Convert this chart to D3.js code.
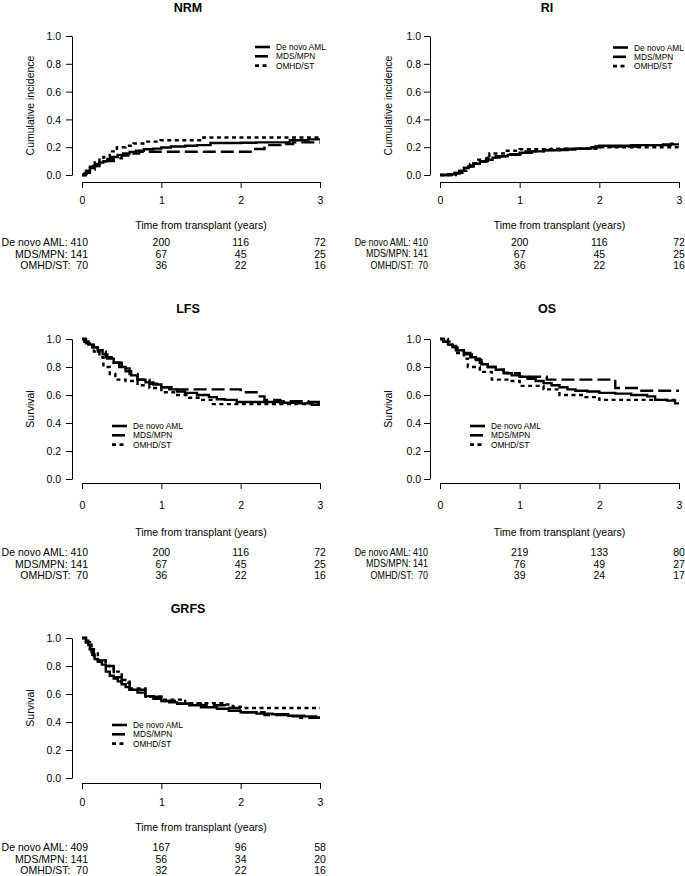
<!DOCTYPE html>
<html>
<head>
<meta charset="utf-8">
<script src="https://cdn.jsdelivr.net/npm/d3@7"></script>
<style>
  html, body { margin: 0; padding: 0; background: #fff; }
  svg text { font-family: "Liberation Sans", Arial, Helvetica, sans-serif; fill: #000; }
</style>
</head>
<body>
<svg id="chart" width="685" height="876"></svg>
<script>
// ---------- data ----------
const groupNames = ["De novo AML", "MDS/MPN", "OMHD/ST"];
const riskLabels = ["De novo AML:", "MDS/MPN:", "OMHD/ST:"];
const xTicks = [0, 1, 2, 3];
const yTicks = [0, 0.2, 0.4, 0.6, 0.8, 1.0];

// NRM (cumulative incidence) [time, value]
const nrmDeNovo = [[0,0],[0.03,0.01],[0.06,0.03],[0.1,0.05],[0.14,0.065],[0.18,0.08],[0.22,0.09],[0.27,0.1],[0.32,0.115],[0.38,0.13],[0.45,0.145],[0.52,0.155],[0.6,0.165],[0.68,0.175],[0.78,0.185],[0.9,0.19],[1.0,0.198],[1.12,0.205],[1.3,0.21],[1.45,0.215],[1.62,0.23],[2.0,0.232],[2.2,0.235],[2.62,0.25],[2.85,0.256],[3,0.256]];
const nrmMds = [[0,0],[0.04,0.015],[0.1,0.04],[0.16,0.065],[0.22,0.085],[0.3,0.1],[0.4,0.12],[0.5,0.14],[0.6,0.155],[0.72,0.167],[2.16,0.187],[2.3,0.215],[2.5,0.222],[2.66,0.235],[3,0.235]];
const nrmOmhd = [[0,0],[0.05,0.03],[0.1,0.06],[0.16,0.09],[0.22,0.11],[0.27,0.13],[0.35,0.17],[0.44,0.2],[0.55,0.21],[0.65,0.227],[0.8,0.24],[0.99,0.25],[1.53,0.27],[3,0.27]];

// RI (cumulative incidence)
const riDeNovo = [[0,0],[0.1,0.005],[0.18,0.015],[0.24,0.03],[0.3,0.05],[0.36,0.065],[0.42,0.08],[0.5,0.095],[0.58,0.11],[0.66,0.125],[0.75,0.135],[0.85,0.145],[1.0,0.16],[1.15,0.17],[1.3,0.178],[1.5,0.183],[1.7,0.19],[1.9,0.2],[2.0,0.21],[2.4,0.215],[2.8,0.22],[3,0.22]];
const riMds = [[0,0],[0.15,0.01],[0.25,0.03],[0.33,0.06],[0.42,0.085],[0.5,0.1],[0.6,0.125],[0.7,0.135],[0.85,0.15],[1.05,0.17],[1.3,0.18],[1.6,0.19],[1.95,0.205],[2.5,0.215],[2.9,0.225],[3,0.225]];
const riOmhd = [[0,0],[0.2,0.015],[0.28,0.05],[0.38,0.08],[0.48,0.11],[0.58,0.13],[0.62,0.155],[0.8,0.175],[1.0,0.185],[1.4,0.19],[2.0,0.2],[3,0.2]];

// LFS (survival)
const lfsDeNovo = [[0,1],[0.03,0.98],[0.08,0.96],[0.13,0.94],[0.2,0.92],[0.26,0.89],[0.32,0.86],[0.4,0.83],[0.47,0.8],[0.55,0.77],[0.62,0.74],[0.7,0.71],[0.8,0.69],[0.9,0.675],[1.0,0.655],[1.1,0.64],[1.2,0.625],[1.3,0.615],[1.45,0.6],[1.6,0.585],[1.7,0.57],[1.8,0.565],[1.95,0.55],[2.5,0.545],[2.75,0.54],[2.9,0.53],[3,0.53]];
const lfsMds = [[0,1],[0.05,0.97],[0.12,0.94],[0.2,0.91],[0.3,0.87],[0.4,0.83],[0.5,0.79],[0.6,0.75],[0.7,0.71],[0.85,0.68],[1.0,0.655],[1.15,0.64],[2.0,0.62],[2.2,0.59],[2.3,0.565],[2.5,0.555],[2.85,0.55],[3,0.55]];
const lfsOmhd = [[0,1],[0.08,0.96],[0.15,0.91],[0.22,0.87],[0.27,0.8],[0.35,0.75],[0.42,0.71],[0.55,0.7],[0.7,0.67],[0.85,0.65],[1.0,0.62],[1.2,0.6],[1.35,0.58],[1.5,0.565],[1.65,0.535],[3,0.535]];

// OS (survival)
const osDeNovo = [[0,1],[0.04,0.98],[0.1,0.96],[0.16,0.94],[0.22,0.92],[0.3,0.9],[0.38,0.87],[0.45,0.85],[0.52,0.82],[0.6,0.8],[0.7,0.78],[0.8,0.755],[0.9,0.74],[1.0,0.73],[1.1,0.715],[1.2,0.7],[1.3,0.685],[1.4,0.67],[1.5,0.655],[1.6,0.64],[1.7,0.63],[1.85,0.625],[2.0,0.615],[2.2,0.61],[2.4,0.6],[2.6,0.59],[2.7,0.565],[2.85,0.56],[2.95,0.54],[3,0.54]];
const osMds = [[0,1],[0.05,0.98],[0.12,0.95],[0.2,0.92],[0.3,0.89],[0.4,0.86],[0.5,0.83],[0.6,0.8],[0.7,0.78],[0.8,0.76],[0.85,0.755],[1.0,0.73],[1.34,0.71],[2.2,0.65],[2.5,0.63],[3,0.63]];
const osOmhd = [[0,1],[0.1,0.96],[0.2,0.9],[0.3,0.86],[0.35,0.8],[0.5,0.765],[0.65,0.71],[0.9,0.7],[1.0,0.665],[1.3,0.64],[1.5,0.6],[1.8,0.585],[2.0,0.565],[3,0.565]];

// GRFS (survival)
const grfsDeNovo = [[0,1],[0.05,0.98],[0.08,0.95],[0.1,0.92],[0.13,0.88],[0.16,0.85],[0.2,0.83],[0.25,0.81],[0.3,0.76],[0.35,0.73],[0.4,0.71],[0.45,0.69],[0.5,0.67],[0.55,0.65],[0.6,0.63],[0.7,0.61],[0.8,0.585],[0.9,0.565],[1.0,0.55],[1.1,0.54],[1.2,0.53],[1.35,0.52],[1.5,0.505],[1.7,0.495],[1.85,0.48],[2.0,0.47],[2.2,0.46],[2.4,0.455],[2.6,0.445],[2.8,0.44],[2.95,0.43],[3,0.43]];
const grfsMds = [[0,1],[0.05,0.97],[0.1,0.92],[0.15,0.87],[0.2,0.84],[0.3,0.8],[0.4,0.72],[0.5,0.68],[0.6,0.63],[0.8,0.58],[1.0,0.55],[1.2,0.53],[1.5,0.52],[1.8,0.5],[2.0,0.47],[2.3,0.45],[2.6,0.44],[2.75,0.43],[3,0.43]];
const grfsOmhd = [[0,1],[0.05,0.97],[0.12,0.9],[0.2,0.84],[0.3,0.8],[0.4,0.76],[0.5,0.7],[0.6,0.64],[0.8,0.58],[1.0,0.56],[1.3,0.535],[1.8,0.525],[1.9,0.51],[2.0,0.5],[3,0.5]];

// numbers at risk (rows: De novo AML, MDS/MPN, OMHD/ST; columns: t = 0,1,2,3)
const riskNRM  = [[410,200,116,72],[141,67,45,25],[70,36,22,16]];
const riskRI   = [[410,200,116,72],[141,67,45,25],[70,36,22,16]];
const riskLFS  = [[410,200,116,72],[141,67,45,25],[70,36,22,16]];
const riskOS   = [[410,219,133,80],[141,76,49,27],[70,39,24,17]];
const riskGRFS = [[409,167,96,58],[141,56,34,20],[70,32,22,16]];

// ---------- layout ----------
const cols = [
  {axisX: 72, x0: 82, x3: 320, ylabX: 30, titleX: 188, riskEnd: 88, riskSx: 1, tickEnd: 61},
  {axisX: 430, x0: 440, x3: 679, ylabX: 388, titleX: 547, riskEnd: 428, riskSx: 0.85, tickEnd: 421}
];
const rows = [
  {title: 8, yTop: 36, yBot: 175, axisY: 182, tickLab: 200, xlab: 225, table: 242},
  {title: 309, yTop: 339, yBot: 479, axisY: 483, tickLab: 505, xlab: 532, table: 552},
  {title: 609, yTop: 638, yBot: 778, axisY: 783, tickLab: 802, xlab: 827, table: 847}
];
const panels = [
  {title: "NRM", ylab: "Cumulative incidence", c: 0, r: 0, series: [nrmDeNovo, nrmMds, nrmOmhd], risk: riskNRM, leg: [255, 47]},
  {title: "RI", ylab: "Cumulative incidence", c: 1, r: 0, series: [riDeNovo, riMds, riOmhd], risk: riskRI, leg: [613, 47.5]},
  {title: "LFS", ylab: "Survival", c: 0, r: 1, series: [lfsDeNovo, lfsMds, lfsOmhd], risk: riskLFS, leg: [112, 426]},
  {title: "OS", ylab: "Survival", c: 1, r: 1, series: [osDeNovo, osMds, osOmhd], risk: riskOS, leg: [470, 426]},
  {title: "GRFS", ylab: "Survival", c: 0, r: 2, series: [grfsDeNovo, grfsMds, grfsOmhd], risk: riskGRFS, leg: [112, 725]}
];
const dashes = [null, "13,5", "4,3.5"];
const FS = 10.5;

const svg = d3.select("#chart");

panels.forEach(p => {
  const C = cols[p.c], R = rows[p.r];
  const x = d3.scaleLinear().domain([0, 3]).range([C.x0, C.x3]);
  const y = d3.scaleLinear().domain([0, 1]).range([R.yBot, R.yTop]);
  const g = svg.append("g");

  // title
  g.append("text").attr("x", C.titleX).attr("y", R.title)
    .attr("text-anchor", "middle").attr("dominant-baseline", "central")
    .style("font-weight", "bold").style("font-size", "12.5px").text(p.title);

  // y axis
  const ya = g.append("g").attr("transform", `translate(${C.axisX},0)`)
    .call(d3.axisLeft(y).tickValues(yTicks).tickFormat(d3.format(".1f")).tickSize(6).tickSizeOuter(0));
  ya.select(".domain").attr("stroke", "#000");
  ya.selectAll(".tick line").attr("stroke", "#000");
  ya.selectAll(".tick text").attr("x", C.tickEnd - C.axisX).attr("dy", "0.35em")
    .style("font-size", FS + "px").attr("font-family", null);

  // x axis
  const xa = g.append("g").attr("transform", `translate(0,${R.axisY})`)
    .call(d3.axisBottom(x).tickValues(xTicks).tickFormat(d3.format("d")).tickSize(6).tickSizeOuter(0));
  xa.select(".domain").attr("stroke", "#000");
  xa.selectAll(".tick line").attr("stroke", "#000");
  xa.selectAll(".tick text").attr("y", R.tickLab - R.axisY).attr("dy", "0.35em")
    .style("font-size", FS + "px").attr("font-family", null);

  // axis titles
  g.append("text").attr("transform", `translate(${C.ylabX},${(R.yTop + R.yBot) / 2}) rotate(-90)`)
    .attr("text-anchor", "middle").attr("dominant-baseline", "central")
    .style("font-size", FS + "px").text(p.ylab);
  g.append("text").attr("x", (C.x0 + C.x3) / 2).attr("y", R.xlab)
    .attr("text-anchor", "middle").attr("dominant-baseline", "central")
    .style("font-size", FS + "px").text("Time from transplant (years)");

  // curves
  const line = d3.line().x(d => x(d[0])).y(d => y(d[1])).curve(d3.curveStepAfter);
  p.series.forEach((s, i) => {
    g.append("path").datum(s).attr("d", line)
      .attr("fill", "none").attr("stroke", "#000").attr("stroke-width", 2.4)
      .attr("stroke-dasharray", dashes[i]);
  });

  // legend
  groupNames.forEach((nm, i) => {
    const ly = p.leg[1] + i * 9.3;
    g.append("line").attr("x1", p.leg[0]).attr("x2", p.leg[0] + 15)
      .attr("y1", ly).attr("y2", ly).attr("stroke", "#000").attr("stroke-width", 2.6)
      .attr("stroke-dasharray", dashes[i]);
    g.append("text").attr("x", p.leg[0] + 21).attr("y", ly)
      .attr("dominant-baseline", "central").style("font-size", "8.3px").text(nm);
  });

  // numbers at risk
  p.risk.forEach((rw, i) => {
    const ty = R.table + i * 11.7;
    const first = riskLabels[i] + "\u00A0" + String(rw[0]).padStart(3, "\u00A0").replace(/ /g, "\u00A0");
    g.append("text")
      .attr("transform", `translate(${C.riskEnd},${ty}) scale(${C.riskSx},1)`)
      .attr("text-anchor", "end").attr("dominant-baseline", "central")
      .style("font-size", FS + "px").text(first);
    rw.slice(1).forEach((v, j) => {
      g.append("text").attr("x", x(xTicks[j + 1])).attr("y", ty)
        .attr("text-anchor", "middle").attr("dominant-baseline", "central")
        .style("font-size", FS + "px").text(v);
    });
  });
});
</script>
</body>
</html>
